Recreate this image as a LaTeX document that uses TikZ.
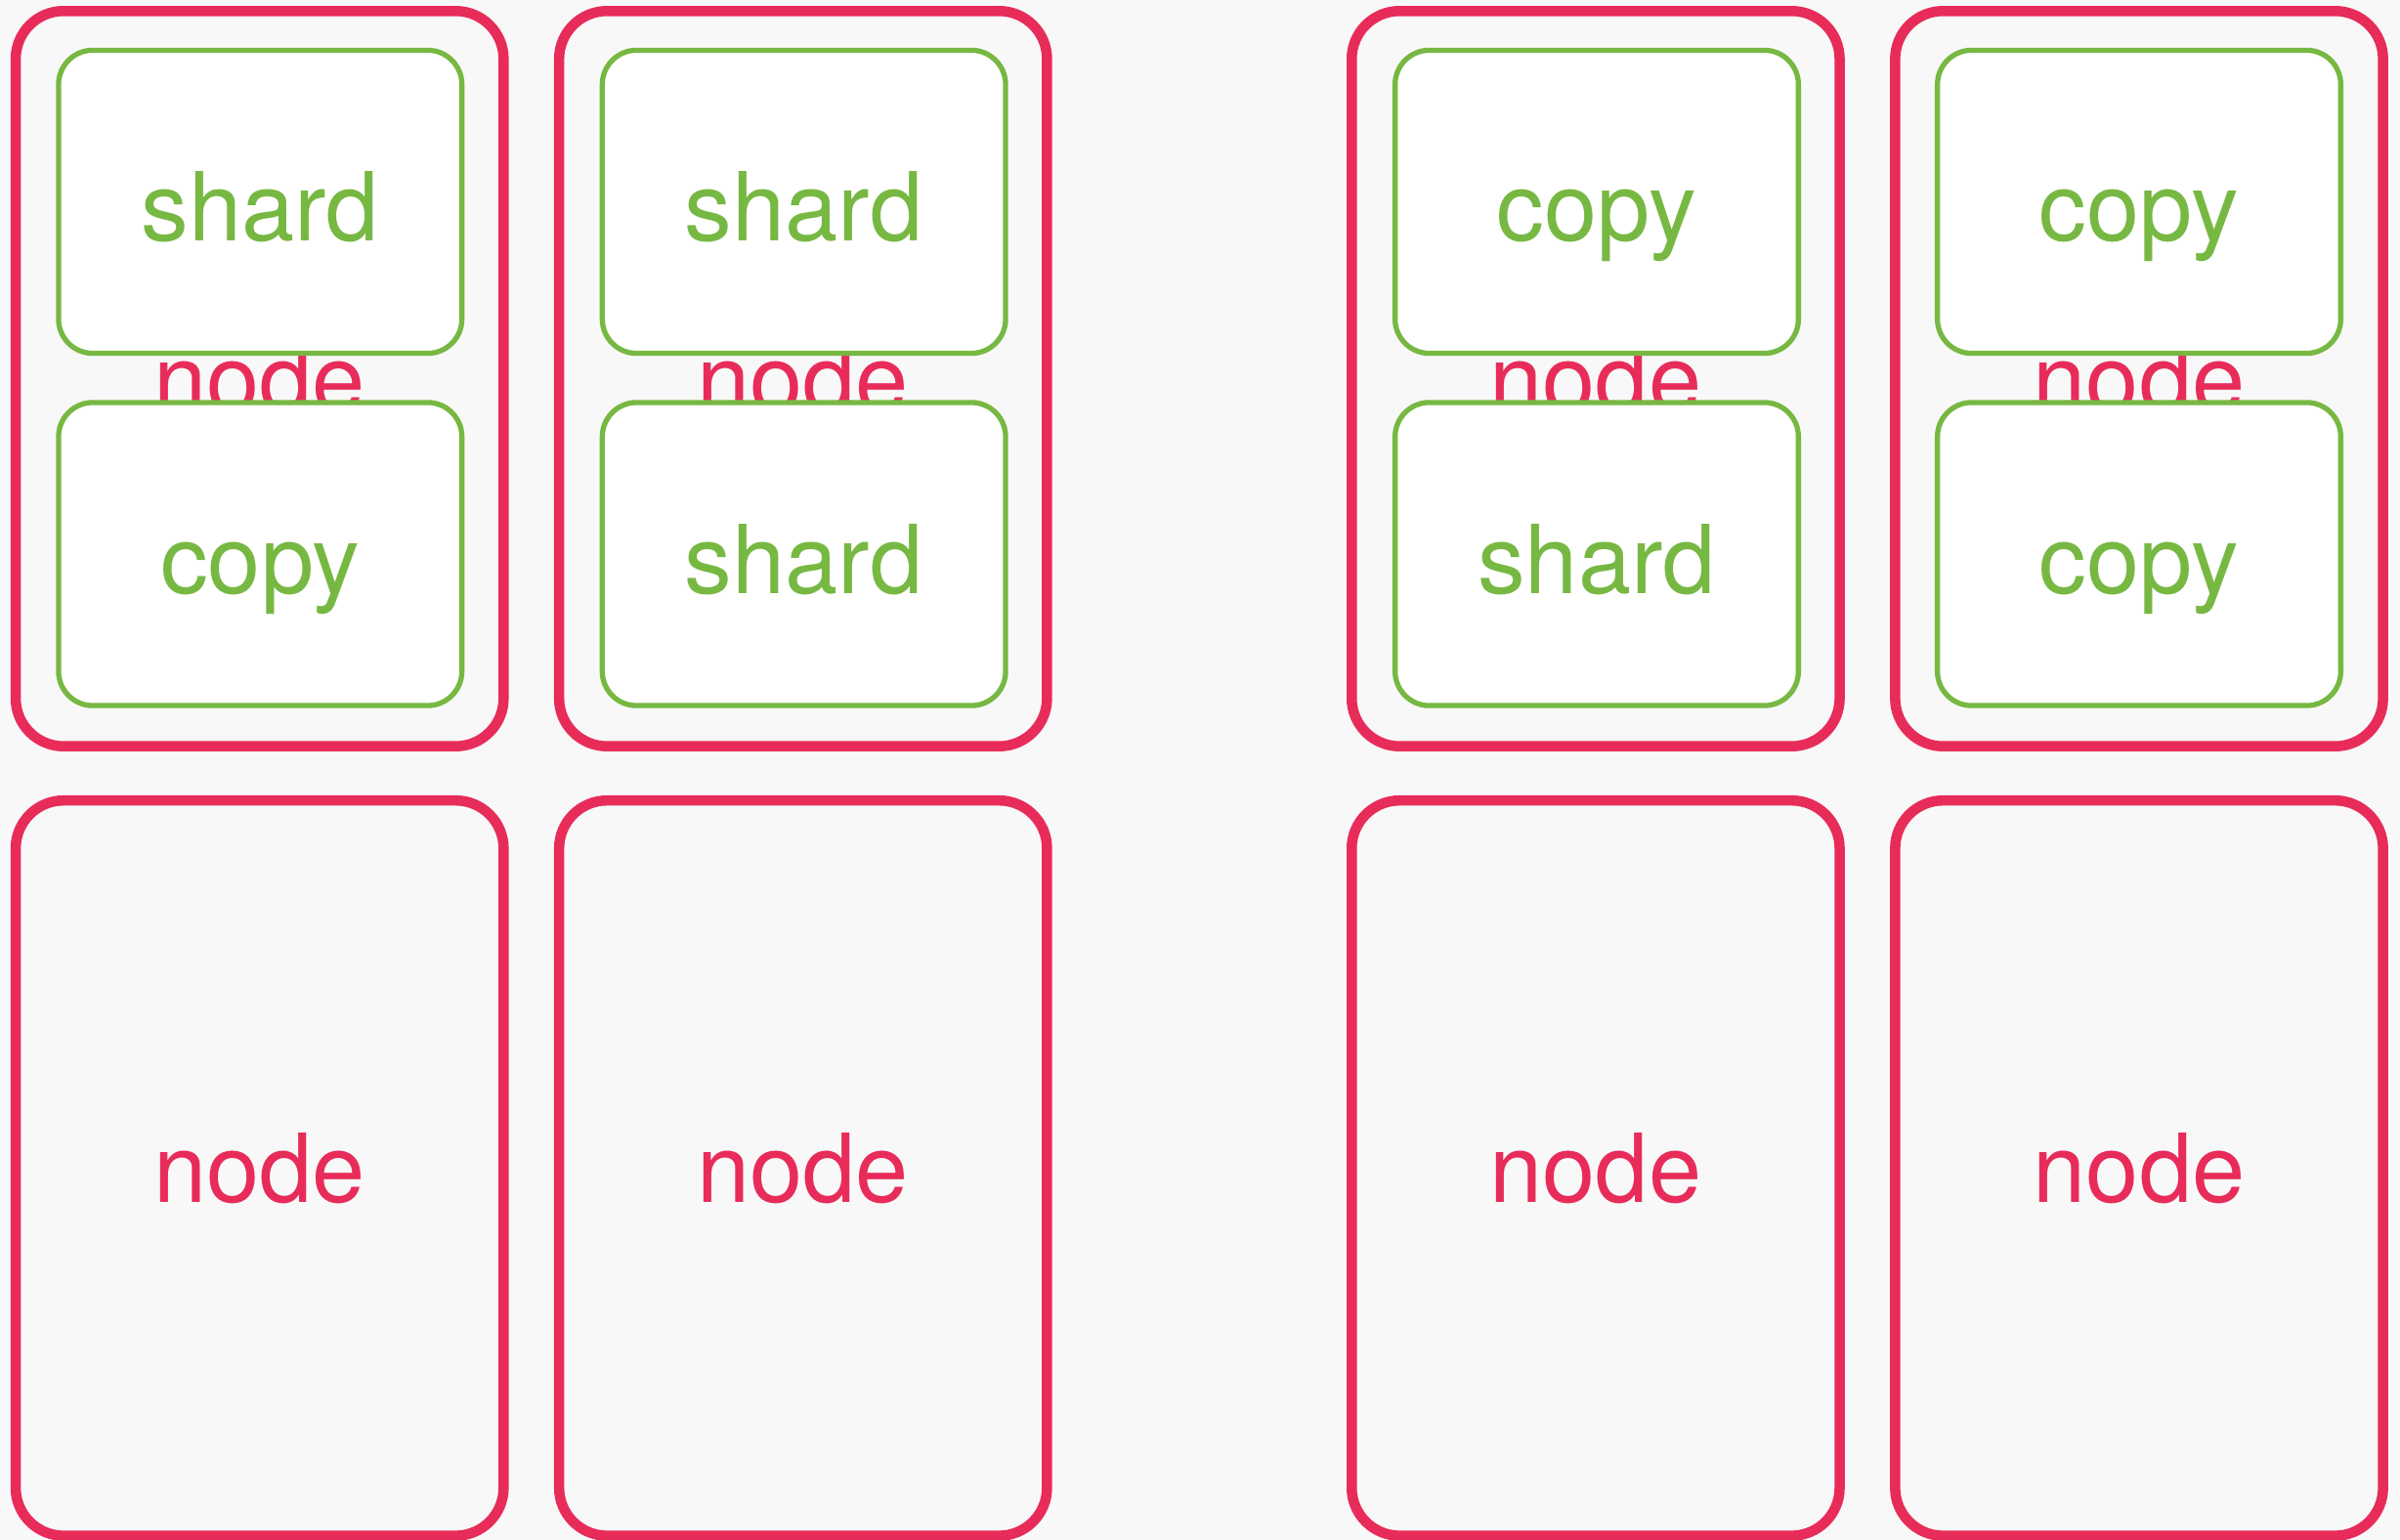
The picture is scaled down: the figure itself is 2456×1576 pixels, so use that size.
\documentclass[tikz,border=0pt]{standalone}
\usepackage{fontspec}
\setmainfont{TeX Gyre Heros}
\definecolor{nodered}{HTML}{E82C5A}
\definecolor{shardgreen}{HTML}{77B843}
\definecolor{canvas}{HTML}{F8F8F8}
\newcommand\labelfont{\fontsize{27.7}{33}\selectfont}
\begin{document}
\begin{tikzpicture}[x=0.01cm,y=-0.01cm,
  machine/.style={draw=nodered, line width=0.105cm, fill=canvas,
    rounded corners=0.49cm, minimum width=4.99cm, minimum height=7.52cm,
    text=nodered, font=\labelfont, inner sep=0pt,
    text height=0.7cm, text depth=0pt},
  replica/.style={draw=shardgreen, line width=0.053cm, fill=white,
    rounded corners=0.35cm, minimum width=4.125cm, minimum height=3.1cm,
    text=shardgreen, font=\labelfont, inner sep=0pt,
    text height=0.8cm, text depth=0pt}]
  % canvas
  \useasboundingbox (0,0) rectangle (2456,1576);
  \fill[canvas] (0,0) rectangle (2456,1576);

  % machines, upper row
  \node[machine] (m1t) at (265.7,387.5) {node};
  \node[machine] (m2t) at (821.8,387.5) {node};
  \node[machine] (m3t) at (1632.9,387.5) {node};
  \node[machine] (m4t) at (2189,387.5) {node};

  % machines, lower row
  \node[machine] (m1b) at (265.7,1195.4) {node};
  \node[machine] (m2b) at (821.8,1195.4) {node};
  \node[machine] (m3b) at (1632.9,1195.4) {node};
  \node[machine] (m4b) at (2189,1195.4) {node};

  % shards and copies held by the upper machines
  \node[replica] (r1a) at (266.3,206.5) {shard};
  \node[replica] (r1b) at (266.3,567) {copy};
  \node[replica] (r2a) at (822.7,206.5) {shard};
  \node[replica] (r2b) at (822.7,567) {shard};
  \node[replica] (r3a) at (1634,206.5) {copy};
  \node[replica] (r3b) at (1634,567) {shard};
  \node[replica] (r4a) at (2189,206.5) {copy};
  \node[replica] (r4b) at (2189,567) {copy};
\end{tikzpicture}
\end{document}
